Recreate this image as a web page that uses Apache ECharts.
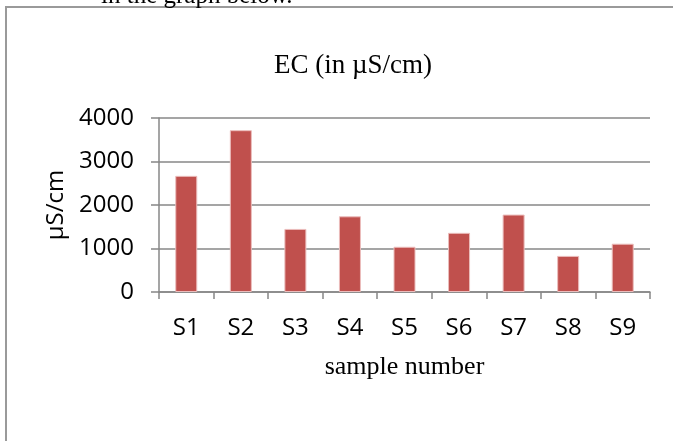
<!DOCTYPE html>
<html>
<head>
<meta charset="utf-8">
<script src="https://cdn.jsdelivr.net/npm/echarts@6/dist/echarts.min.js"></script>
<style>html,body{margin:0;padding:0;background:#fff;}#c{width:673px;height:441px;}</style>
</head>
<body>
<div id="c"></div>
<script>
const categories = ['S1','S2','S3','S4','S5','S6','S7','S8','S9'];
const ecValues = [2670, 3720, 1450, 1740, 1040, 1360, 1780, 830, 1110];
const yTicks = [0, 1000, 2000, 3000, 4000];

const chart = echarts.init(document.getElementById('c'), null, {renderer: 'canvas'});
const sansFont = '"Open Sans", "Liberation Sans", sans-serif';
const serifFont = '"Liberation Serif", "DejaVu Serif", serif';
chart.setOption({
  animation: false,
  backgroundColor: '#fff',
  title: {
    text: 'EC (in \u00b5S/cm)',
    left: 348,
    textAlign: 'center',
    top: 47,
    textStyle: {fontFamily: serifFont, fontSize: 27, fontWeight: 'normal', color: '#000'}
  },
  graphic: [
    {type: 'rect', shape: {x: 6, y: 7, width: 720, height: 500}, style: {fill: 'none', stroke: '#9a9a9a', lineWidth: 2}, z: 10, silent: true},
    {type: 'text', left: 101, top: -16, style: {text: 'in the graph below.', fontFamily: serifFont, fontSize: 25, fill: '#000'}, z: 10, silent: true}
  ],
  grid: {left: 159, right: 23, top: 118, bottom: 149, containLabel: false},
  xAxis: {
    type: 'category',
    data: categories,
    name: 'sample number',
    nameLocation: 'middle',
    nameGap: 62,
    nameTextStyle: {fontFamily: serifFont, fontSize: 26, color: '#000'},
    axisLine: {show: true, lineStyle: {color: '#878787', width: 1.5}},
    axisTick: {show: true, alignWithLabel: false, length: 7, lineStyle: {color: '#878787', width: 1.5}},
    axisLabel: {margin: 24, fontFamily: sansFont, fontSize: 24, color: '#000'}
  },
  yAxis: {
    type: 'value',
    min: yTicks[0],
    max: yTicks[yTicks.length - 1],
    interval: 1000,
    name: '\u00b5S/cm',
    nameLocation: 'middle',
    nameGap: 85,
    nameRotate: 90,
    nameTextStyle: {fontFamily: sansFont, fontSize: 24, color: '#000'},
    axisLine: {show: true, lineStyle: {color: '#878787', width: 1.5}},
    axisTick: {show: true, length: 8, lineStyle: {color: '#878787', width: 1.5}},
    axisLabel: {margin: 25, fontFamily: sansFont, fontSize: 24, color: '#000', formatter: function (v) { return String(v); }},
    splitLine: {show: true, lineStyle: {color: '#878787', width: 1.5}}
  },
  series: [{
    type: 'bar',
    data: ecValues,
    barWidth: 22,
    itemStyle: {color: '#C0504D', borderColor: '#EBBDBC', borderWidth: 1}
  }]
});
</script>
</body>
</html>
